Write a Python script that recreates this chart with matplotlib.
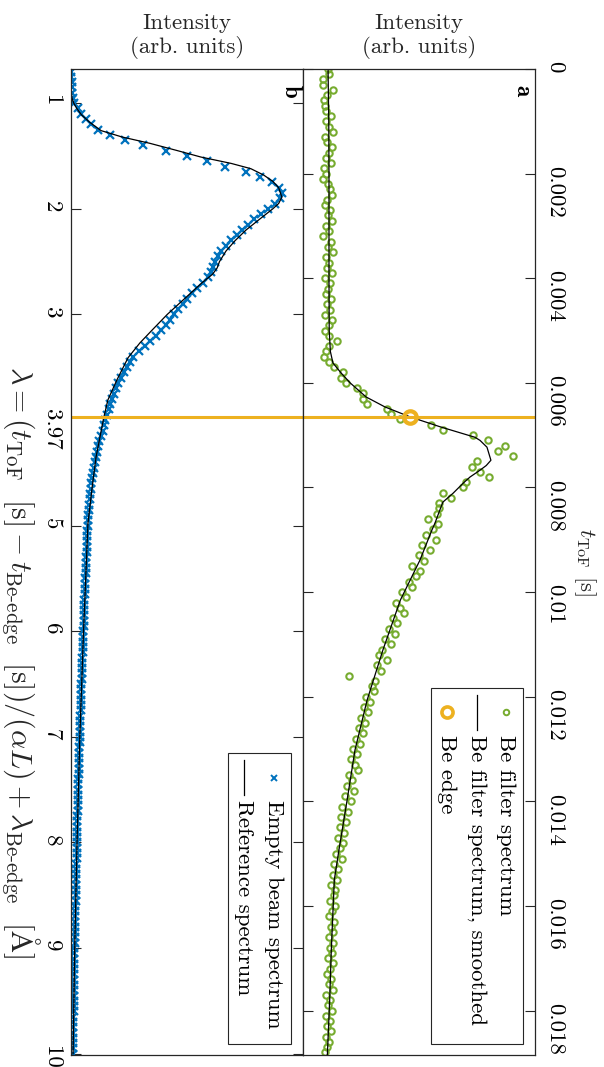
import numpy as np
import matplotlib.pyplot as plt

plt.rcParams['font.family'] = 'serif'
plt.rcParams['font.serif'] = ['cmr10']
plt.rcParams['mathtext.fontset'] = 'cm'
plt.rcParams['axes.unicode_minus'] = False

# ---- panel a: Be filter spectrum vs time of flight ----
# points every 0.1 ms from 0 to 18.8 ms, intensity in arb. units (0..1 of axis)
t_be = np.arange(189) * 1e-4
be_filter = [
    0.108, 0.112, 0.086, 0.088, 0.129, 0.103, 0.092, 0.095, 0.100, 0.120,
    0.101, 0.112, 0.129, 0.095, 0.105, 0.125, 0.110, 0.100, 0.120, 0.091,
    0.098, 0.086, 0.108, 0.115, 0.125, 0.104, 0.096, 0.118, 0.109, 0.123,
    0.099, 0.113, 0.088, 0.121, 0.106, 0.131, 0.097, 0.114, 0.102, 0.127,
    0.093, 0.118, 0.108, 0.099, 0.122, 0.104, 0.115, 0.094, 0.126, 0.110,
    0.095, 0.112, 0.147, 0.112, 0.099, 0.091, 0.112, 0.134, 0.172, 0.164,
    0.185, 0.233, 0.259, 0.259, 0.276, 0.362, 0.379, 0.418, 0.552, 0.603,
    0.733, 0.797, 0.871, 0.841, 0.905, 0.750, 0.728, 0.763, 0.802, 0.703,
    0.690, 0.603, 0.638, 0.586, 0.586, 0.578, 0.539, 0.582, 0.560,
    0.530, 0.575, 0.512, 0.548, 0.498, 0.520, 0.470, 0.505, 0.488, 0.455,
    0.470, 0.428, 0.445, 0.402, 0.418, 0.436, 0.388, 0.405, 0.372, 0.395,
    0.352, 0.378, 0.340, 0.328, 0.360, 0.318, 0.335, 0.200, 0.312, 0.298,
    0.305, 0.270, 0.288, 0.262, 0.282, 0.250, 0.268, 0.240, 0.258, 0.228,
    0.245, 0.215, 0.232, 0.205, 0.222, 0.238, 0.198, 0.212, 0.190, 0.218,
    0.182, 0.205, 0.170, 0.192, 0.165, 0.185, 0.158, 0.178, 0.150, 0.172,
    0.160, 0.142, 0.170, 0.135, 0.152, 0.128, 0.147, 0.120, 0.140, 0.132,
    0.118, 0.138, 0.125, 0.112, 0.135, 0.120, 0.128, 0.110, 0.131, 0.117,
    0.125, 0.108, 0.130, 0.115, 0.104, 0.122, 0.112, 0.128, 0.101, 0.118,
    0.109, 0.124, 0.098, 0.116, 0.105, 0.120, 0.097, 0.112, 0.103, 0.095,
]

t_smooth_ms = [0, 1, 2, 3, 4, 5, 5.4, 5.62, 5.81, 6.0, 6.27, 6.46, 6.65, 6.84,
               7.04, 7.1, 7.23, 7.48, 7.58, 7.67, 7.8, 7.92, 8.11, 8.28, 8.43,
               8.68, 8.81, 9.39, 10.15, 11.1, 12.07, 13.02, 13.98, 14.93, 15.5,
               16.84, 17.8, 18.85]
be_smooth = [0.108, 0.111, 0.112, 0.112, 0.112, 0.113, 0.118, 0.129, 0.164,
             0.203, 0.272, 0.353, 0.461, 0.591, 0.741, 0.763, 0.793, 0.810,
             0.790, 0.763, 0.720, 0.690, 0.647, 0.603, 0.590, 0.569, 0.556,
             0.504, 0.420, 0.345, 0.276, 0.224, 0.190, 0.155, 0.135, 0.122,
             0.115, 0.105]

t_edge = 0.00665
edge_int = 0.461

# ---- panel b: empty beam spectrum vs wavelength ----
lam_beam = 0.70 + 0.05 * np.arange(187)
empty_beam = [
    0.002, 0.002, 0.003, 0.003, 0.004, 0.007, 0.013, 0.030, 0.045, 0.065,
    0.085, 0.118, 0.168, 0.232, 0.310, 0.410, 0.500, 0.585, 0.665, 0.754,
    0.815, 0.866, 0.897, 0.909, 0.900, 0.878, 0.850, 0.820, 0.790, 0.762,
    0.737, 0.715, 0.690, 0.668, 0.648, 0.632, 0.620, 0.612, 0.603, 0.590,
    0.570, 0.545, 0.522, 0.502, 0.483, 0.463, 0.445, 0.426, 0.408, 0.390,
    0.365, 0.340, 0.318, 0.295, 0.268, 0.255, 0.241, 0.228, 0.215, 0.203,
    0.195, 0.186, 0.178, 0.170, 0.162, 0.155, 0.148, 0.143, 0.138, 0.129,
    0.122, 0.117, 0.112, 0.108, 0.103, 0.098, 0.094, 0.091, 0.088, 0.086,
    0.083, 0.080, 0.078, 0.077, 0.075, 0.074, 0.072,
    0.071, 0.070, 0.069, 0.068, 0.067, 0.066, 0.065, 0.064, 0.063, 0.062,
    0.061, 0.060, 0.059, 0.058, 0.057, 0.057, 0.056, 0.055, 0.054, 0.053,
    0.052, 0.051, 0.050, 0.050, 0.049, 0.048, 0.047, 0.046, 0.046, 0.045,
    0.044, 0.043, 0.043, 0.042, 0.041, 0.040, 0.040, 0.039, 0.038, 0.037,
    0.037, 0.036, 0.036, 0.035, 0.034, 0.034, 0.033, 0.032, 0.032, 0.031,
    0.030, 0.030, 0.029, 0.029, 0.028, 0.027, 0.027, 0.026, 0.026, 0.025,
    0.025, 0.024, 0.024, 0.023, 0.023, 0.022, 0.022, 0.021, 0.021, 0.020,
    0.020, 0.019, 0.019, 0.018, 0.018, 0.017, 0.017, 0.016, 0.016, 0.015,
    0.015, 0.014, 0.014, 0.014, 0.013, 0.013, 0.012, 0.012, 0.012, 0.011,
    0.011, 0.011, 0.010, 0.010, 0.010, 0.009, 0.009, 0.009, 0.008, 0.008,
]

lam_ref = [0.676, 0.90, 0.95, 1.00, 1.05, 1.11, 1.18, 1.26, 1.32, 1.38, 1.45,
           1.51, 1.57, 1.62, 1.68, 1.74, 1.80, 1.89, 1.95, 2.00, 2.10, 2.20,
           2.30, 2.40, 2.50, 2.56, 2.62, 2.70, 2.80, 2.90, 3.00, 3.15, 3.27,
           3.41, 3.62, 3.81, 3.97, 4.16, 4.35, 4.64, 4.98, 6.0, 7.0, 8.0, 9.0,
           10.0]
ref_spec = [0.000, 0.001, 0.004, 0.012, 0.025, 0.045, 0.080, 0.130, 0.220,
            0.340, 0.460, 0.560, 0.690, 0.775, 0.830, 0.870, 0.895, 0.909,
            0.895, 0.870, 0.812, 0.755, 0.708, 0.668, 0.640, 0.630, 0.610,
            0.565, 0.515, 0.465, 0.415, 0.349, 0.297, 0.246, 0.198, 0.159,
            0.142, 0.125, 0.108, 0.091, 0.073, 0.054, 0.038, 0.026, 0.016,
            0.009]

lam_edge = 3.97
alpha_L = 0.002019   # s per Angstrom
T_MAX = 0.01885

t_ticks = [0, 0.002, 0.004, 0.006, 0.008, 0.01, 0.012, 0.014, 0.016, 0.018]
t_labels = ['0', '0.002', '0.004', '0.006', '0.008', '0.01', '0.012', '0.014',
            '0.016', '0.018']
lam_ticks = [1, 2, 3, 3.97, 5, 6, 7, 8, 9, 10]
lam_labels = ['1', '2', '3', '3.97', '5', '6', '7', '8', '9', '10']

green = '#77AC30'
blue = '#0072BD'
orange = '#EDB120'
spine_c = '#262626'
fs = 16.5

W, H = 604, 1067
fig = plt.figure(figsize=(W / 100, H / 100), dpi=100)
axb = fig.add_axes([71 / W, 12 / H, 232 / W, 986 / H])
axa = fig.add_axes([303 / W, 12 / H, 232 / W, 986 / H])

for ax in (axa, axb):
    ax.set_xlim(0, 1)
    ax.set_xticks([])
    for s in ax.spines.values():
        s.set_color(spine_c)
        s.set_linewidth(0.9)

# panel a
axa.plot(be_filter, t_be, 'o', mfc='none', mec=green, ms=4.6, mew=1.5, ls='none')
axa.plot(be_smooth, np.array(t_smooth_ms) * 1e-3, '-', color='k', lw=0.9)
axa.axhline(t_edge, color=orange, lw=2.2)
axa.plot([edge_int], [t_edge], 'o', mfc='none', mec=orange, ms=9, mew=3)
axa.set_ylim(T_MAX, 0)
axa.set_yticks(t_ticks)
axa.set_yticklabels(t_labels)
axa.tick_params(axis='y', direction='in', left=True, right=True,
                labelleft=False, labelright=True, length=7, width=0.8,
                color=spine_c, labelrotation=-90, labelsize=fs, pad=7)

# panel b
axb.plot(empty_beam, lam_beam, 'x', color=blue, ms=6, mew=1.6, ls='none')
axb.plot(ref_spec, lam_ref, '-', color='k', lw=0.9)
axb.axhline(lam_edge, color=orange, lw=2.2)
lam_lo = (0 - t_edge) / alpha_L + lam_edge
lam_hi = (T_MAX - t_edge) / alpha_L + lam_edge
axb.set_ylim(lam_hi, lam_lo)
axb.set_yticks(lam_ticks)
axb.set_yticklabels(lam_labels)
axb.tick_params(axis='y', direction='in', left=True, right=True,
                labelleft=True, labelright=False, length=7, width=0.8,
                color=spine_c, labelrotation=-90, labelsize=fs, pad=7)

# panel letters
axa.text(0.905, 0.978, r'$\mathbf{a}$', transform=axa.transAxes, rotation=-90,
         ha='left', va='center', fontsize=fs)
axb.text(0.905, 0.978, r'$\mathbf{b}$', transform=axb.transAxes, rotation=-90,
         ha='left', va='center', fontsize=fs)

# hand-made legends with text running downwards
def legend_box(ax, x0, x1, y0, y1):
    ax.add_patch(plt.Rectangle((x0, y0), x1 - x0, y1 - y0, transform=ax.transAxes,
                               fc='white', ec=spine_c, lw=0.8, zorder=5))

legend_box(axa, 0.552, 0.948, 0.011, 0.372)
axa.plot([0.875], [0.348], 'o', mfc='none', mec=green, ms=4, mew=1.4,
         transform=axa.transAxes, zorder=6)
axa.plot([0.75, 0.75], [0.365, 0.330], '-', color='k', lw=0.9,
         transform=axa.transAxes, zorder=6)
axa.plot([0.621], [0.348], 'o', mfc='none', mec=orange, ms=8, mew=2.6,
         transform=axa.transAxes, zorder=6)
for xx, s in [(0.875, 'Be filter spectrum'), (0.75, 'Be filter spectrum, smoothed'),
              (0.621, 'Be edge')]:
    axa.text(xx, 0.325, s, transform=axa.transAxes, rotation=-90, ha='center',
             va='top', fontsize=fs, zorder=6)

legend_box(axb, 0.677, 0.948, 0.011, 0.306)
axb.plot([0.875], [0.281], 'x', color=blue, ms=5, mew=1.4,
         transform=axb.transAxes, zorder=6)
axb.plot([0.746, 0.746], [0.299, 0.264], '-', color='k', lw=0.9,
         transform=axb.transAxes, zorder=6)
for xx, s in [(0.875, 'Empty beam spectrum'), (0.746, 'Reference spectrum')]:
    axb.text(xx, 0.259, s, transform=axb.transAxes, rotation=-90, ha='center',
             va='top', fontsize=fs, zorder=6)

# axis titles
for xc in (187, 419):
    fig.text(xc / W, 1 - 36 / H, 'Intensity\n(arb. units)', ha='center',
             va='center', fontsize=fs, color='#262626', linespacing=1.2)
fig.text(585 / W, 1 - 562 / H, r'$t_{\mathrm{ToF}}$ [s]', rotation=-90,
         ha='center', va='center', fontsize=fs, color='#262626')
fig.text(21 / W, 1 - 662 / H,
         r'$\lambda = (t_{\mathrm{ToF}}\ \ [\mathrm{s}] - t_{\mathrm{Be\text{-}edge}}\ \ [\mathrm{s}])'
         r'/(\alpha L) + \lambda_{\mathrm{Be\text{-}edge}}\ \ [\mathrm{\AA}]$',
         rotation=-90, ha='center', va='center', fontsize=21.5, color='#262626')

fig.savefig('out.png', dpi=100)
